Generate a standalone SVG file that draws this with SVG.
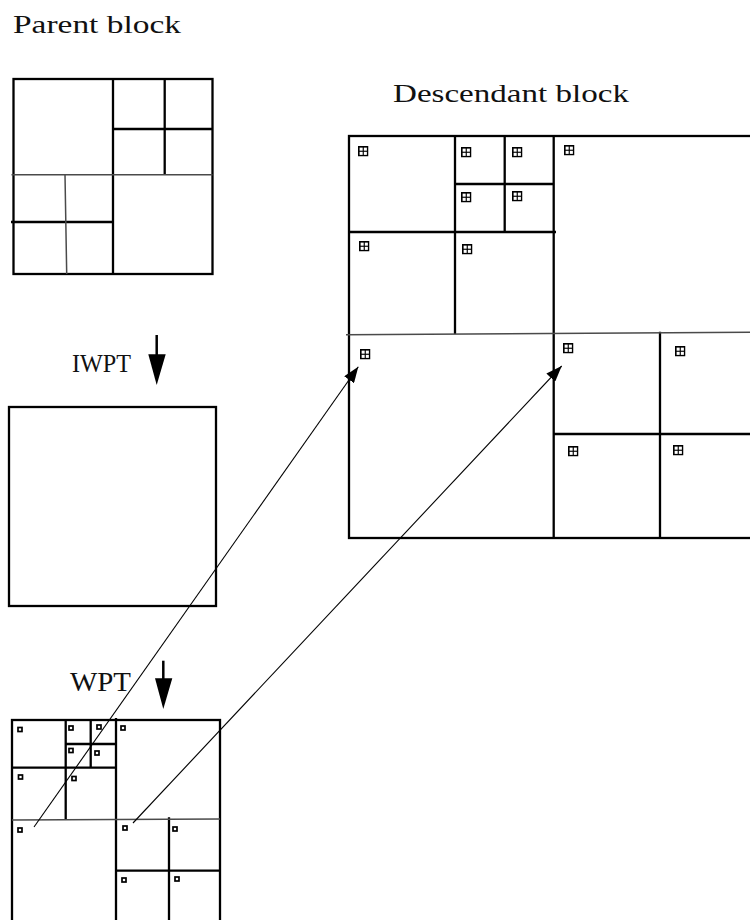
<svg xmlns="http://www.w3.org/2000/svg" width="750" height="920" viewBox="0 0 750 920">
<style>
  .blk { fill: none; stroke: #000; stroke-width: 2.3; }
  .thin { fill: none; stroke: #4a4a4a; stroke-width: 1.5; }
  .lbl { font-family: "Liberation Serif", "Times New Roman", serif; font-size: 26px; fill: #111; }
  .conn { stroke: #000; stroke-width: 1.1; fill: none; }
  .sq { fill: #fff; stroke: #000; stroke-width: 1.7; }
</style>
<defs>
  <symbol id="win" viewBox="0 0 11 11">
    <rect x="0" y="0" width="11" height="11" fill="#000"/>
    <rect x="1.7" y="1.7" width="3.2" height="3.2" fill="#fff"/>
    <rect x="6.1" y="1.7" width="3.2" height="3.2" fill="#fff"/>
    <rect x="1.7" y="6.1" width="3.2" height="3.2" fill="#fff"/>
    <rect x="6.1" y="6.1" width="3.2" height="3.2" fill="#fff"/>
  </symbol>
  <marker id="ah" markerUnits="userSpaceOnUse" markerWidth="16" markerHeight="12" viewBox="0 0 16 12" refX="16" refY="6" orient="auto">
    <path d="M0 0L16 6L0 12Z" fill="#000"/>
  </marker>
</defs>
<rect width="750" height="920" fill="#fff"/>

<g id="labels">
  <text class="lbl" x="13" y="33" textLength="168" lengthAdjust="spacingAndGlyphs">Parent block</text>
  <text class="lbl" x="393" y="102" textLength="236" lengthAdjust="spacingAndGlyphs">Descendant block</text>
  <text class="lbl" x="72" y="372" textLength="59" lengthAdjust="spacingAndGlyphs">IWPT</text>
  <text class="lbl" x="70" y="691" style="font-size:27px" textLength="61" lengthAdjust="spacingAndGlyphs">WPT</text>
</g>

<g id="parent-block">
  <rect class="blk" x="13.5" y="79" width="199" height="195"/>
  <path class="blk" d="M113 79V274M113 129H212.5M164.7 79V174.7M11 222H113"/>
  <path class="thin" d="M11.5 174.7H212.5M65 174.7L66.7 274"/>
</g>

<g id="iwpt-block">
  <rect class="blk" x="9" y="407" width="207" height="199"/>
</g>

<g id="descendant-block">
  <rect class="blk" x="349" y="136" width="420" height="402"/>
  <path class="blk" d="M455 136V334M504.7 136V232M553.7 136V538M455 184H554M349 232H556M660 331.7V538M553 434H750"/>
  <path class="thin" d="M346 334.7L750 332.3"/>
  <use href="#win" x="358" y="146" width="10.5" height="10.5"/>
  <use href="#win" x="461" y="147" width="10.5" height="10.5"/>
  <use href="#win" x="512" y="147" width="10.5" height="10.5"/>
  <use href="#win" x="564" y="145" width="10.5" height="10.5"/>
  <use href="#win" x="461" y="192" width="10.5" height="10.5"/>
  <use href="#win" x="512" y="191" width="10.5" height="10.5"/>
  <use href="#win" x="359" y="241" width="10.5" height="10.5"/>
  <use href="#win" x="462" y="244" width="10.5" height="10.5"/>
  <use href="#win" x="360" y="349" width="10.5" height="10.5"/>
  <use href="#win" x="563" y="343" width="10.5" height="10.5"/>
  <use href="#win" x="675" y="346" width="10.5" height="10.5"/>
  <use href="#win" x="568" y="446" width="10.5" height="10.5"/>
  <use href="#win" x="673" y="445" width="10.5" height="10.5"/>
</g>

<g id="wpt-block">
  <rect class="blk" x="12" y="720" width="208" height="215"/>
  <path class="blk" d="M116 718V920M12 767.7H116M65.7 720V820M90.7 720V767.7M65.7 744H116M169 817.3V920M116 870.7H220"/>
  <path class="thin" d="M12 820L220 819"/>
  <rect class="sq" x="18" y="727.5" width="4" height="4"/>
  <rect class="sq" x="69" y="726" width="4" height="4"/>
  <rect class="sq" x="97" y="725" width="4" height="4"/>
  <rect class="sq" x="121" y="726" width="4" height="4"/>
  <rect class="sq" x="69" y="748.5" width="4" height="4"/>
  <rect class="sq" x="95" y="751" width="4" height="4"/>
  <rect class="sq" x="18.5" y="775" width="4" height="4"/>
  <rect class="sq" x="72" y="776.5" width="4" height="4"/>
  <rect class="sq" x="18" y="828" width="4" height="4"/>
  <rect class="sq" x="123" y="826" width="4" height="4"/>
  <rect class="sq" x="173" y="827" width="4" height="4"/>
  <rect class="sq" x="122" y="878" width="4" height="4"/>
  <rect class="sq" x="175" y="877" width="4" height="4"/>
</g>

<g id="connectors">
  <line class="conn" x1="34" y1="827" x2="358.3" y2="366.7" marker-end="url(#ah)"/>
  <line class="conn" x1="133" y1="823" x2="561.7" y2="366" marker-end="url(#ah)"/>
  <line x1="156.7" y1="335" x2="156.7" y2="356" stroke="#000" stroke-width="2.5"/>
  <polygon points="148.3,354.3 165.7,354.3 156.7,385" fill="#000"/>
  <line x1="163.3" y1="660.7" x2="163.3" y2="680" stroke="#000" stroke-width="2.5"/>
  <polygon points="155,678.3 172.3,678.3 163.3,709" fill="#000"/>
</g>
</svg>
